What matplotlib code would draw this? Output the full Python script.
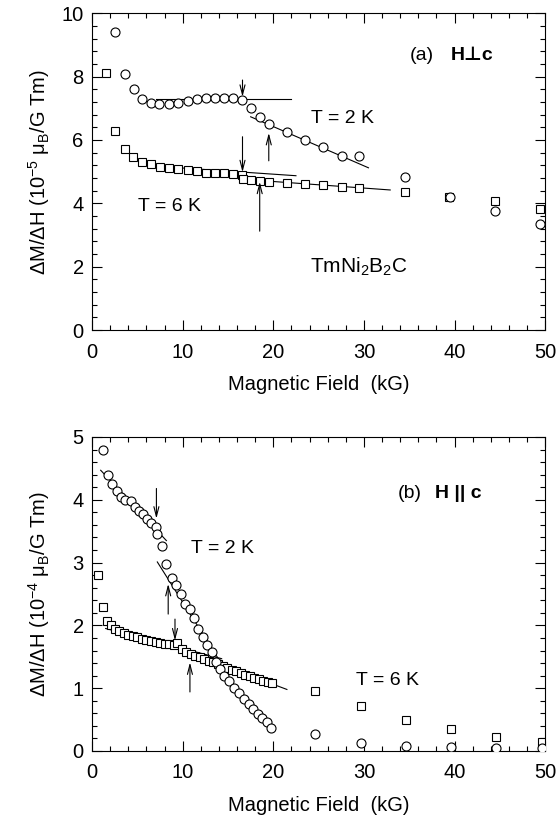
import matplotlib
matplotlib.use("Agg")
import matplotlib.pyplot as plt
from matplotlib.ticker import MultipleLocator

plt.rcParams["font.family"] = ["Liberation Sans", "DejaVu Sans"]
plt.rcParams["mathtext.fontset"] = "custom"
plt.rcParams["mathtext.rm"] = "Liberation Sans"
plt.rcParams["mathtext.it"] = "Liberation Sans:italic"
plt.rcParams["mathtext.bf"] = "Liberation Sans:bold"

# ---- panel (a): H perpendicular to c, units 1e-5 muB/G Tm ----
a_2k_x = [2.5, 3.6, 4.6, 5.5, 6.5, 7.4, 8.5, 9.5, 10.6, 11.6, 12.6, 13.6, 14.6, 15.6,
          16.6, 17.5, 18.5, 19.5, 21.5, 23.5, 25.5, 27.6, 29.5, 34.5, 39.5, 44.5, 49.4]
a_2k_y = [9.41, 8.08, 7.60, 7.28, 7.17, 7.12, 7.12, 7.15, 7.22, 7.28, 7.33, 7.33, 7.33, 7.31,
          7.26, 7.01, 6.73, 6.49, 6.24, 6.00, 5.78, 5.50, 5.50, 4.82, 4.20, 3.75, 3.36]
a_6k_x = [1.55, 2.5, 3.6, 4.5, 5.5, 6.5, 7.5, 8.5, 9.5, 10.6, 11.6, 12.6, 13.6, 14.6, 15.6,
          16.6, 16.7, 17.5, 18.5, 19.5, 21.5, 23.5, 25.5, 27.6, 29.5, 34.5, 39.4, 44.5, 49.4]
a_6k_y = [8.12, 6.28, 5.71, 5.45, 5.29, 5.23, 5.15, 5.12, 5.08, 5.05, 5.02, 4.97, 4.94, 4.94, 4.93,
          4.88, 4.78, 4.73, 4.70, 4.66, 4.63, 4.60, 4.57, 4.50, 4.48, 4.36, 4.20, 4.07, 3.81]
a_lines = [((7.1, 22.0), (7.30, 7.30)), ((17.5, 30.5), (6.73, 5.12)),
           ((5.5, 22.5), (5.20, 4.87)), ((16.5, 32.9), (4.76, 4.42))]
a_arrows = [((16.6, 7.89), (16.6, 7.36)), ((19.5, 5.34), (19.5, 6.22)),
            ((16.6, 6.10), (16.6, 4.98)), ((18.5, 3.12), (18.5, 4.68))]

# ---- panel (b): H parallel to c, units 1e-4 muB/G Tm ----
b_2k_x = [1.2, 1.75, 2.2, 2.7, 3.15, 3.6, 4.25, 4.7, 5.2, 5.65, 6.1, 6.55, 7.0, 7.2, 7.7,
          8.2, 8.8, 9.3, 9.8, 10.25, 10.8, 11.25, 11.7, 12.2, 12.65, 13.2, 13.65, 14.1,
          14.6, 15.1, 15.7, 16.2, 16.8, 17.3, 17.8, 18.3, 18.8, 19.25, 19.7,
          24.6, 29.7, 34.6, 39.6, 44.6, 49.6]
b_2k_y = [4.79, 4.40, 4.25, 4.14, 4.05, 3.99, 3.98, 3.89, 3.82, 3.77, 3.69, 3.63, 3.57, 3.45, 3.26,
          2.98, 2.75, 2.64, 2.50, 2.34, 2.26, 2.12, 1.95, 1.82, 1.69, 1.57, 1.41, 1.31,
          1.20, 1.11, 1.01, 0.92, 0.83, 0.75, 0.67, 0.59, 0.52, 0.46, 0.37,
          0.27, 0.12, 0.08, 0.06, 0.05, 0.04]
b_6k_x = [0.7, 1.2, 1.7, 2.1, 2.5, 3.0, 3.5, 4.0, 4.5, 5.0, 5.5, 6.0, 6.5, 7.0, 7.5, 8.0, 8.5,
          9.0, 9.4, 9.9, 10.4, 10.9, 11.4, 11.9, 12.4, 12.9, 13.4, 13.9, 14.4, 14.9, 15.4,
          15.9, 16.4, 16.9, 17.4, 17.9, 18.4, 18.9, 19.4, 19.9,
          24.6, 29.7, 34.6, 39.6, 44.6, 49.6]
b_6k_y = [2.80, 2.29, 2.07, 2.01, 1.95, 1.91, 1.88, 1.85, 1.83, 1.81, 1.79, 1.77, 1.75, 1.74,
          1.72, 1.71, 1.70, 1.69, 1.72, 1.62, 1.57, 1.54, 1.52, 1.49, 1.46, 1.43, 1.41, 1.38,
          1.35, 1.32, 1.29, 1.27, 1.24, 1.21, 1.19, 1.16, 1.14, 1.12, 1.10, 1.08,
          0.95, 0.71, 0.49, 0.35, 0.23, 0.15]
b_lines = [((0.95, 8.2), (4.47, 3.35)), ((7.2, 13.8), (3.01, 1.50)),
           ((1.5, 14.3), (1.95, 1.47)), ((8.0, 21.5), (1.71, 0.98))]
b_arrows = [((7.1, 4.18), (7.1, 3.70)), ((8.4, 2.18), (8.4, 2.66)),
            ((9.15, 2.10), (9.15, 1.76)), ((10.8, 0.94), (10.8, 1.41))]

fig = plt.figure(figsize=(5.58, 8.24), dpi=100)
ax1 = fig.add_axes([0.165, 0.5995, 0.812, 0.3845])
ax2 = fig.add_axes([0.165, 0.0886, 0.812, 0.3811])

marker_kw = dict(ls="none", mfc="white", mec="black", mew=0.8)


def draw_panel(ax, x2, y2, x6, y6, lines, arrows):
    for xs, ys in lines:
        ax.plot(xs, ys, color="black", lw=0.8, zorder=1)
    ax.plot(x6, y6, marker="s", ms=5.2, zorder=2, **marker_kw)
    ax.plot(x2, y2, marker="o", ms=6.5, zorder=3, **marker_kw)
    for start, end in arrows:
        ax.annotate("", xy=end, xytext=start,
                    arrowprops=dict(arrowstyle="->,head_length=0.7,head_width=0.18",
                                    lw=0.8, color="black", shrinkA=0, shrinkB=0))
    ax.set_xlim(0, 50)
    ax.xaxis.set_major_locator(MultipleLocator(10))
    ax.xaxis.set_minor_locator(MultipleLocator(2))
    ax.tick_params(which="both", direction="in", top=True, right=True,
                   labelsize=14.5, width=0.8)
    ax.tick_params(which="major", length=7)
    ax.tick_params(axis="x", which="major", pad=9)
    ax.tick_params(axis="y", which="major", pad=6)
    ax.tick_params(which="minor", length=3.5)
    for s in ax.spines.values():
        s.set_linewidth(0.8)
    ax.set_xlabel("Magnetic Field  (kG)", fontsize=14.5, labelpad=10)
    ax.yaxis.set_label_coords(-0.088, 0.5)


draw_panel(ax1, a_2k_x, a_2k_y, a_6k_x, a_6k_y, a_lines, a_arrows)
ax1.set_ylim(0, 10)
ax1.yaxis.set_major_locator(MultipleLocator(2))
ax1.yaxis.set_minor_locator(MultipleLocator(0.4))
ax1.set_ylabel(r"ΔM/ΔH (10$^{-5}$ μ$_\mathrm{B}$/G Tm)", fontsize=14.5)
ax1.text(35.1, 8.67, "(a)", fontsize=14, va="center")
ax1.text(39.6, 8.67, "H⊥c", fontsize=14, fontweight="bold", va="center")
ax1.text(24.2, 6.69, "T = 2 K", fontsize=14, va="center")
ax1.text(5.1, 3.89, "T = 6 K", fontsize=14, va="center")
ax1.text(24.1, 2.0, "TmNi$_2$B$_2$C", fontsize=15, va="center")

draw_panel(ax2, b_2k_x, b_2k_y, b_6k_x, b_6k_y, b_lines, b_arrows)
ax2.set_ylim(0, 5)
ax2.yaxis.set_major_locator(MultipleLocator(1))
ax2.yaxis.set_minor_locator(MultipleLocator(0.2))
ax2.set_ylabel(r"ΔM/ΔH (10$^{-4}$ μ$_\mathrm{B}$/G Tm)", fontsize=14.5)
ax2.text(33.7, 4.1, "(b)", fontsize=14, va="center")
ax2.text(37.8, 4.1, "H || c", fontsize=14, fontweight="bold", va="center")
ax2.text(10.9, 3.22, "T = 2 K", fontsize=14, va="center")
ax2.text(29.1, 1.12, "T = 6 K", fontsize=14, va="center")

fig.savefig("out.png", dpi=100)
